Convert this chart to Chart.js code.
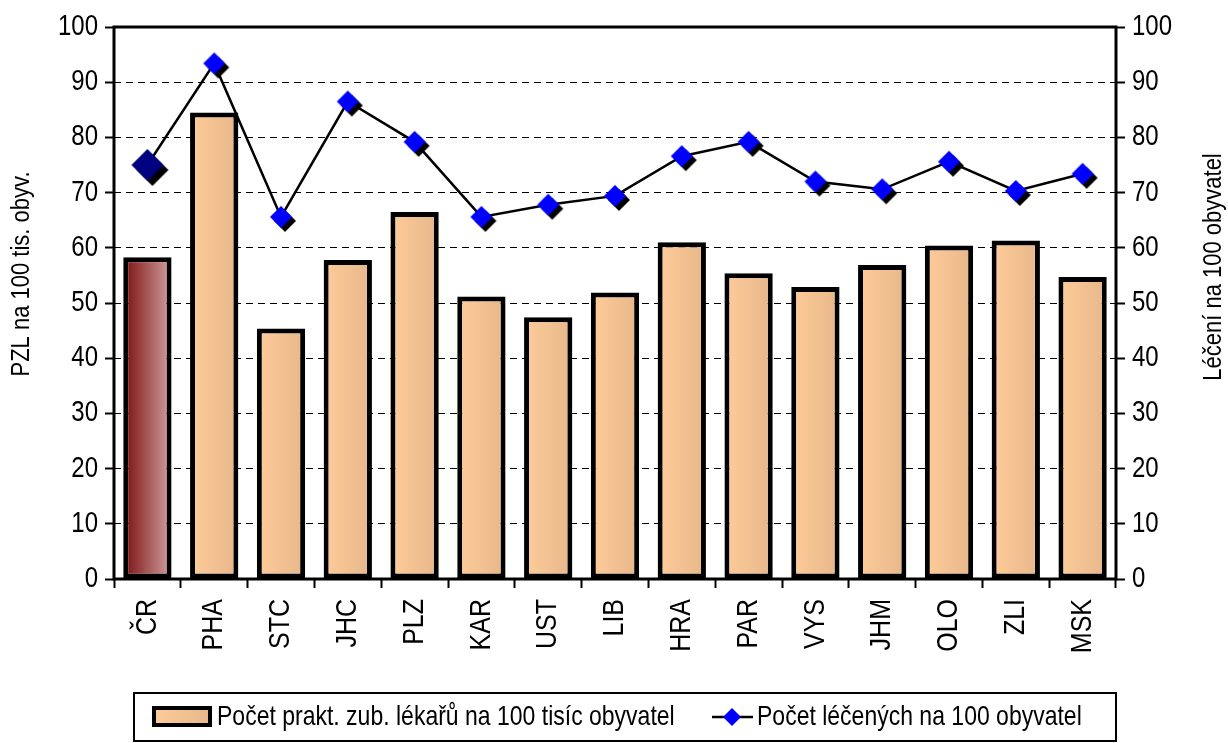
<!DOCTYPE html>
<html><head><meta charset="utf-8">
<script src="https://cdn.jsdelivr.net/npm/chart.js@4.4.1/dist/chart.umd.min.js"></script>
<style>html,body{margin:0;padding:0;background:#fff;overflow:hidden}#wrap{width:1228px;height:743px;position:relative}</style>
</head><body><div id="wrap"><canvas id="c"></canvas></div>
<script>
// ---- data ----
const categories = ['ČR','PHA','STC','JHC','PLZ','KAR','UST','LIB','HRA','PAR','VYS','JHM','OLO','ZLI','MSK'];
const dentistsPer100k = [58.3,84.5,45.4,57.8,66.5,51.2,47.4,51.9,61.0,55.4,52.9,56.9,60.4,61.3,54.7];
const treatedPer100 = [75.0,93.4,65.6,86.5,79.2,65.6,67.8,69.4,76.6,79.2,72.0,70.6,75.6,70.3,73.4];
const seriesLabels = ['Počet prakt. zub. lékařů na 100 tisíc obyvatel','Počet léčených na 100 obyvatel'];
const axisTitles = ['PZL na 100 tis. obyv.','Léčení na 100 obyvatel'];
const axisMin = 0, axisMax = 100, axisStep = 10;

// ---- text stretch (glyphs are taller than wide in the reference) ----
const canvas = document.getElementById('c');
const c2d = canvas.getContext('2d');
const origFill = c2d.fillText.bind(c2d);
const K = 1.2;
c2d.fillText = function(t, x, y, mw){
  this.save(); this.translate(x, y); this.scale(1, K);
  if (mw !== undefined) origFill(t, 0, 0, mw); else origFill(t, 0, 0);
  this.restore();
};

function diamondCanvas(r, d, color){
  const S = 2*(r+d)+2, c = S/2;
  const cv = document.createElement('canvas'); cv.width = S; cv.height = S;
  const g = cv.getContext('2d');
  const dia = (cx, cy, col) => { g.fillStyle = col; g.beginPath(); g.moveTo(cx, cy-r); g.lineTo(cx+r, cy); g.lineTo(cx, cy+r); g.lineTo(cx-r, cy); g.closePath(); g.fill(); };
  if (d > 0) dia(c+d, c+d, '#000');
  dia(c, c, color);
  return cv;
}
const bigPt = diamondCanvas(16, 5, '#000080');
const smallPt = diamondCanvas(11, 4, '#0000FF');
const pointStyles = categories.map((_, i) => i === 0 ? bigPt : smallPt);

const BAR_PCT = 0.723;
function barGradient(ctx, x0, x1, first){
  const g = ctx.createLinearGradient(x0, 0, x1, 0);
  if (first){ g.addColorStop(0, '#7A0E0E'); g.addColorStop(1, '#D3A0A0'); }
  else { g.addColorStop(0, '#FFCC99'); g.addColorStop(1, '#E6B78A'); }
  return g;
}

const FONT = '"Liberation Sans", Arial, sans-serif';
const overlay = {
  id: 'overlay',
  beforeDatasetsDraw(chart){
    const {ctx, chartArea: a} = chart;
    ctx.save(); ctx.setLineDash([]); ctx.strokeStyle = '#000'; ctx.lineWidth = 3;
    ctx.strokeRect(a.left, a.top, a.right - a.left, a.bottom - a.top);
    ctx.restore();
  },
  afterDraw(chart){
    const {ctx} = chart;
    ctx.save();
    ctx.fillStyle = '#000'; ctx.textBaseline = 'middle'; ctx.textAlign = 'center';
    ctx.font = '22px ' + FONT;
    ctx.save(); ctx.translate(22, 274); ctx.rotate(-Math.PI/2); ctx.fillText(axisTitles[0], 0, 0); ctx.restore();
    ctx.save(); ctx.translate(1214, 267); ctx.rotate(-Math.PI/2); ctx.fillText(axisTitles[1], 0, 0); ctx.restore();
    // legend
    ctx.setLineDash([]);
    ctx.strokeStyle = '#000'; ctx.lineWidth = 2;
    ctx.strokeRect(134, 693, 982, 48);
    ctx.fillStyle = barGradient(ctx, 152, 212, false);
    ctx.fillRect(152, 706, 60, 21);
    ctx.lineWidth = 4; ctx.strokeRect(154, 708, 56, 17);
    ctx.fillStyle = '#000'; ctx.textAlign = 'left'; ctx.font = '23px ' + FONT;
    ctx.fillText(seriesLabels[0], 217, 717);
    ctx.lineWidth = 2.5; ctx.beginPath(); ctx.moveTo(712, 717); ctx.lineTo(753, 717); ctx.stroke();
    ctx.fillStyle = '#0000FF'; ctx.beginPath();
    ctx.moveTo(732, 708); ctx.lineTo(741, 717); ctx.lineTo(732, 726); ctx.lineTo(723, 717); ctx.closePath(); ctx.fill();
    ctx.fillStyle = '#000';
    ctx.fillText(seriesLabels[1], 757, 717);
    ctx.restore();
  }
};

const tickFont = {family: FONT, size: 24};
new Chart(canvas, {
  data: {
    labels: categories,
    datasets: [
      {
        type: 'line', label: seriesLabels[1], data: treatedPer100, yAxisID: 'y2', order: 0,
        borderColor: '#000', borderWidth: 2.5, tension: 0,
        pointStyle: pointStyles, pointRadius: 10, pointHoverRadius: 10
      },
      {
        type: 'bar', label: seriesLabels[0], data: dentistsPer100k, yAxisID: 'y', order: 1,
        borderColor: '#000', borderWidth: 5, borderSkipped: false,
        categoryPercentage: 1, barPercentage: BAR_PCT,
        backgroundColor: (c) => {
          const chart = c.chart; const a = chart.chartArea; const xs = chart.scales.x;
          if (!a || !xs || c.dataIndex === undefined) return '#FFCC99';
          const x = xs.getPixelForValue(c.dataIndex);
          const hw = (a.right - a.left) / categories.length * BAR_PCT / 2;
          return barGradient(chart.ctx, x - hw, x + hw, c.dataIndex === 0);
        }
      }
    ]
  },
  options: {
    responsive: true, maintainAspectRatio: false, animation: false, devicePixelRatio: 1,
    layout: {padding: {top: 27, left: 0, right: 0, bottom: 0}},
    plugins: {legend: {display: false}, tooltip: {enabled: false}, title: {display: false}},
    scales: {
      x: {
        offset: true,
        grid: {offset: true, drawOnChartArea: false, color: '#000', tickLength: 9, tickWidth: 2, tickColor: '#000'},
        border: {display: false},
        ticks: {color: '#000', font: {family: FONT, size: 25}, minRotation: 90, maxRotation: 90, autoSkip: false, padding: 11},
        afterFit: (s) => { s.height = 743 - 579; }
      },
      y: {
        position: 'left', min: axisMin, max: axisMax,
        grid: {color: '#000', lineWidth: 1, tickLength: 9, tickWidth: 2, tickColor: '#000', tickBorderDash: [50, 0]},
        border: {display: false, dash: [7, 5]},
        ticks: {color: '#000', font: tickFont, stepSize: axisStep, padding: 7},
        afterFit: (s) => { s.width = 114; }
      },
      y2: {
        position: 'right', min: axisMin, max: axisMax,
        grid: {drawOnChartArea: false, color: '#000', tickLength: 9, tickWidth: 2, tickColor: '#000'},
        border: {display: false},
        ticks: {color: '#000', font: tickFont, stepSize: axisStep, padding: 7},
        afterFit: (s) => { s.width = 1228 - 1116; }
      }
    }
  },
  plugins: [overlay]
});
</script>
</body></html>
